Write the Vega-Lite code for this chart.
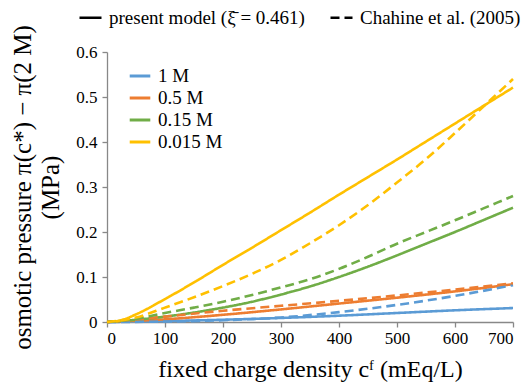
{
  "$schema": "https://vega.github.io/schema/vega-lite/v6.json",
  "autosize": "none",
  "width": 406,
  "height": 270,
  "padding": {"left": 107, "top": 52, "right": 18, "bottom": 64},
  "config": {
    "font": "Liberation Serif",
    "view": {"stroke": null},
    "axis": {"grid": false, "domainColor": "#888888", "tickColor": "#888888", "labelColor": "#000000", "titleColor": "#000000", "titleFontWeight": "normal", "tickSize": 5, "domainWidth": 1.3, "tickWidth": 1.3},
    "legend": {"labelColor": "#000000"}
  },
  "data": {"values": [
    {"c": 0, "p": 0, "salt": "1 M", "model": "present"},
    {"c": 100, "p": 0.002, "salt": "1 M", "model": "present"},
    {"c": 200, "p": 0.005, "salt": "1 M", "model": "present"},
    {"c": 300, "p": 0.009, "salt": "1 M", "model": "present"},
    {"c": 400, "p": 0.014, "salt": "1 M", "model": "present"},
    {"c": 500, "p": 0.02, "salt": "1 M", "model": "present"},
    {"c": 600, "p": 0.026, "salt": "1 M", "model": "present"},
    {"c": 700, "p": 0.031, "salt": "1 M", "model": "present"},
    {"c": 0, "p": 0, "salt": "0.5 M", "model": "present"},
    {"c": 100, "p": 0.006, "salt": "0.5 M", "model": "present"},
    {"c": 200, "p": 0.016, "salt": "0.5 M", "model": "present"},
    {"c": 300, "p": 0.028, "salt": "0.5 M", "model": "present"},
    {"c": 400, "p": 0.041, "salt": "0.5 M", "model": "present"},
    {"c": 500, "p": 0.054, "salt": "0.5 M", "model": "present"},
    {"c": 600, "p": 0.068, "salt": "0.5 M", "model": "present"},
    {"c": 700, "p": 0.084, "salt": "0.5 M", "model": "present"},
    {"c": 0, "p": 0, "salt": "0.15 M", "model": "present"},
    {"c": 50, "p": 0.005, "salt": "0.15 M", "model": "present"},
    {"c": 100, "p": 0.012, "salt": "0.15 M", "model": "present"},
    {"c": 150, "p": 0.021, "salt": "0.15 M", "model": "present"},
    {"c": 200, "p": 0.032, "salt": "0.15 M", "model": "present"},
    {"c": 250, "p": 0.045, "salt": "0.15 M", "model": "present"},
    {"c": 300, "p": 0.061, "salt": "0.15 M", "model": "present"},
    {"c": 350, "p": 0.079, "salt": "0.15 M", "model": "present"},
    {"c": 400, "p": 0.1, "salt": "0.15 M", "model": "present"},
    {"c": 450, "p": 0.123, "salt": "0.15 M", "model": "present"},
    {"c": 500, "p": 0.148, "salt": "0.15 M", "model": "present"},
    {"c": 550, "p": 0.174, "salt": "0.15 M", "model": "present"},
    {"c": 600, "p": 0.2, "salt": "0.15 M", "model": "present"},
    {"c": 650, "p": 0.227, "salt": "0.15 M", "model": "present"},
    {"c": 700, "p": 0.254, "salt": "0.15 M", "model": "present"},
    {"c": 0, "p": 0, "salt": "0.015 M", "model": "present"},
    {"c": 25, "p": 0.004, "salt": "0.015 M", "model": "present"},
    {"c": 50, "p": 0.017, "salt": "0.015 M", "model": "present"},
    {"c": 100, "p": 0.051, "salt": "0.015 M", "model": "present"},
    {"c": 150, "p": 0.088, "salt": "0.015 M", "model": "present"},
    {"c": 200, "p": 0.127, "salt": "0.015 M", "model": "present"},
    {"c": 250, "p": 0.165, "salt": "0.015 M", "model": "present"},
    {"c": 300, "p": 0.204, "salt": "0.015 M", "model": "present"},
    {"c": 350, "p": 0.243, "salt": "0.015 M", "model": "present"},
    {"c": 400, "p": 0.283, "salt": "0.015 M", "model": "present"},
    {"c": 450, "p": 0.322, "salt": "0.015 M", "model": "present"},
    {"c": 500, "p": 0.361, "salt": "0.015 M", "model": "present"},
    {"c": 550, "p": 0.401, "salt": "0.015 M", "model": "present"},
    {"c": 600, "p": 0.441, "salt": "0.015 M", "model": "present"},
    {"c": 650, "p": 0.481, "salt": "0.015 M", "model": "present"},
    {"c": 700, "p": 0.521, "salt": "0.015 M", "model": "present"},
    {"c": 0, "p": 0, "salt": "1 M", "model": "chahine"},
    {"c": 100, "p": 0.001, "salt": "1 M", "model": "chahine"},
    {"c": 200, "p": 0.004, "salt": "1 M", "model": "chahine"},
    {"c": 300, "p": 0.01, "salt": "1 M", "model": "chahine"},
    {"c": 400, "p": 0.022, "salt": "1 M", "model": "chahine"},
    {"c": 500, "p": 0.038, "salt": "1 M", "model": "chahine"},
    {"c": 600, "p": 0.058, "salt": "1 M", "model": "chahine"},
    {"c": 700, "p": 0.082, "salt": "1 M", "model": "chahine"},
    {"c": 0, "p": 0, "salt": "0.5 M", "model": "chahine"},
    {"c": 100, "p": 0.012, "salt": "0.5 M", "model": "chahine"},
    {"c": 200, "p": 0.025, "salt": "0.5 M", "model": "chahine"},
    {"c": 300, "p": 0.036, "salt": "0.5 M", "model": "chahine"},
    {"c": 400, "p": 0.047, "salt": "0.5 M", "model": "chahine"},
    {"c": 500, "p": 0.059, "salt": "0.5 M", "model": "chahine"},
    {"c": 600, "p": 0.072, "salt": "0.5 M", "model": "chahine"},
    {"c": 700, "p": 0.086, "salt": "0.5 M", "model": "chahine"},
    {"c": 0, "p": 0, "salt": "0.15 M", "model": "chahine"},
    {"c": 50, "p": 0.007, "salt": "0.15 M", "model": "chahine"},
    {"c": 100, "p": 0.02, "salt": "0.15 M", "model": "chahine"},
    {"c": 150, "p": 0.032, "salt": "0.15 M", "model": "chahine"},
    {"c": 200, "p": 0.045, "salt": "0.15 M", "model": "chahine"},
    {"c": 250, "p": 0.06, "salt": "0.15 M", "model": "chahine"},
    {"c": 300, "p": 0.077, "salt": "0.15 M", "model": "chahine"},
    {"c": 350, "p": 0.095, "salt": "0.15 M", "model": "chahine"},
    {"c": 400, "p": 0.118, "salt": "0.15 M", "model": "chahine"},
    {"c": 450, "p": 0.145, "salt": "0.15 M", "model": "chahine"},
    {"c": 500, "p": 0.174, "salt": "0.15 M", "model": "chahine"},
    {"c": 550, "p": 0.2, "salt": "0.15 M", "model": "chahine"},
    {"c": 600, "p": 0.226, "salt": "0.15 M", "model": "chahine"},
    {"c": 650, "p": 0.253, "salt": "0.15 M", "model": "chahine"},
    {"c": 700, "p": 0.28, "salt": "0.15 M", "model": "chahine"},
    {"c": 0, "p": 0, "salt": "0.015 M", "model": "chahine"},
    {"c": 50, "p": 0.01, "salt": "0.015 M", "model": "chahine"},
    {"c": 100, "p": 0.032, "salt": "0.015 M", "model": "chahine"},
    {"c": 150, "p": 0.055, "salt": "0.015 M", "model": "chahine"},
    {"c": 200, "p": 0.08, "salt": "0.015 M", "model": "chahine"},
    {"c": 250, "p": 0.107, "salt": "0.015 M", "model": "chahine"},
    {"c": 300, "p": 0.138, "salt": "0.015 M", "model": "chahine"},
    {"c": 350, "p": 0.175, "salt": "0.015 M", "model": "chahine"},
    {"c": 400, "p": 0.215, "salt": "0.015 M", "model": "chahine"},
    {"c": 450, "p": 0.26, "salt": "0.015 M", "model": "chahine"},
    {"c": 500, "p": 0.31, "salt": "0.015 M", "model": "chahine"},
    {"c": 550, "p": 0.362, "salt": "0.015 M", "model": "chahine"},
    {"c": 600, "p": 0.42, "salt": "0.015 M", "model": "chahine"},
    {"c": 650, "p": 0.48, "salt": "0.015 M", "model": "chahine"},
    {"c": 700, "p": 0.54, "salt": "0.015 M", "model": "chahine"}
  ]},
  "mark": {"type": "line", "strokeWidth": 2.6, "interpolate": "monotone"},
  "encoding": {
    "x": {"field": "c", "type": "quantitative",
      "scale": {"domain": [0, 700], "nice": false},
      "axis": {"values": [0, 100, 200, 300, 400, 500, 600, 700], "title": "fixed charge density cᶠ (mEq/L)", "labelFont": "Liberation Serif", "labelFontSize": 17, "titleFont": "Liberation Serif", "titleFontSize": 24, "titlePadding": 11, "labelPadding": 3}},
    "y": {"field": "p", "type": "quantitative",
      "scale": {"domain": [0, 0.6], "nice": false},
      "axis": {"values": [0, 0.1, 0.2, 0.3, 0.4, 0.5, 0.6], "labelExpr": "datum.value == 0 ? '0' : format(datum.value, '.1f')", "labelFont": "Liberation Serif", "labelFontSize": 17, "titleFont": "Liberation Serif", "titleFontSize": 25, "title": ["osmotic pressure π(c*) − π(2 M)", "\u2003\u2003(MPa)"], "titlePadding": 12, "labelPadding": 5, "titleLineHeight": 28}},
    "color": {"field": "salt", "type": "nominal",
      "scale": {"domain": ["1 M", "0.5 M", "0.15 M", "0.015 M"], "range": ["#5B9BD5", "#ED7D31", "#70AD47", "#FFC000"]},
      "legend": {"title": null, "orient": "none", "legendX": 21, "legendY": 12, "padding": 0, "symbolType": "stroke", "symbolStrokeWidth": 3, "symbolSize": 424, "labelFont": "Liberation Serif", "labelFontSize": 19, "rowPadding": -3, "labelOffset": 6}},
    "strokeDash": {"field": "model", "type": "nominal",
      "scale": {"domain": ["present", "chahine"], "range": [[1, 0], [9, 5]]},
      "legend": {"title": null, "orient": "none", "legendX": -29, "legendY": -47, "direction": "horizontal", "padding": 0, "symbolType": "stroke", "symbolStrokeWidth": 2.6, "symbolStrokeColor": "#000000", "symbolSize": 484, "labelFont": "Liberation Serif", "labelFontSize": 19, "labelLimit": 0, "columnPadding": 20, "labelOffset": 6,
        "labelExpr": "datum.value == 'present' ? 'present model (ξ̄ = 0.461)' : 'Chahine et al. (2005)'"}}
  }
}
